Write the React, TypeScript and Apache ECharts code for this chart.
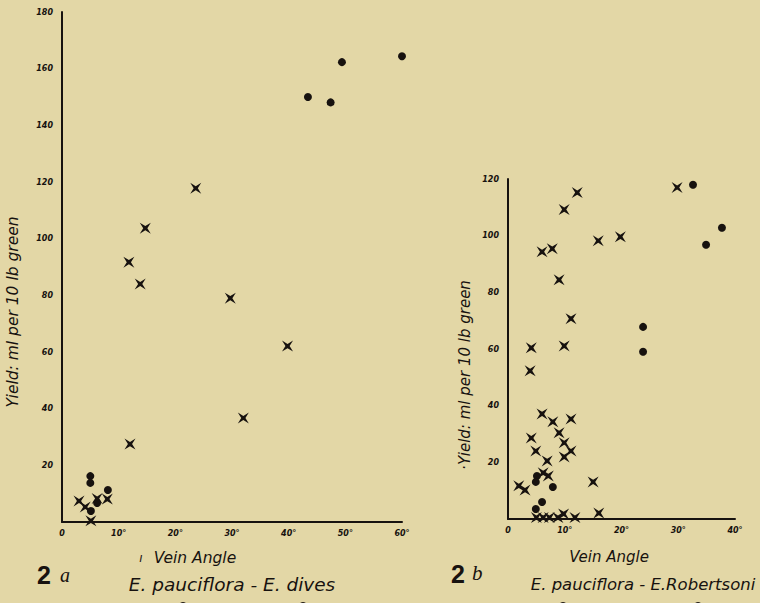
import React, { useEffect, useRef } from "react";
import * as echarts from "echarts";

// Chart 2a: E. pauciflora - E. dives  (x = vein angle in degrees, y = yield ml per 10 lb green)
const aCrosses: number[][] = [
  [23.6, 117.8], [14.7, 103.7], [11.8, 91.7], [13.8, 84.0], [29.7, 79.0],
  [39.8, 62.1], [32.0, 36.7], [12.0, 27.5], [3.0, 7.4], [4.1, 5.3],
  [5.1, 0.4], [8.0, 8.1], [6.2, 8.3],
];
const aCircles: number[][] = [
  [43.4, 150.0], [47.4, 148.1], [49.4, 162.3], [60.0, 164.4],
  [5.0, 16.2], [5.0, 13.8], [8.1, 11.3], [6.2, 6.7], [5.1, 3.9],
];

// Chart 2b: E. pauciflora - E. Robertsoni
const bCrosses: number[][] = [
  [29.8, 117.0], [12.2, 115.2], [9.9, 109.2], [6.0, 94.3], [7.8, 95.4],
  [15.9, 98.2], [19.8, 99.6], [9.0, 84.4], [11.1, 70.7], [4.1, 60.4],
  [9.9, 61.1], [3.9, 52.3], [6.0, 37.1], [7.9, 34.3], [11.1, 35.3],
  [9.0, 30.4], [4.1, 28.6], [9.9, 26.9], [11.1, 24.0], [4.9, 24.0],
  [9.9, 21.9], [6.9, 20.5], [6.2, 16.3], [7.1, 15.2], [1.9, 11.7],
  [3.0, 10.2], [15.0, 13.1], [16.0, 2.1], [5.0, 0.5], [6.2, 0.5],
  [7.3, 0.5], [8.8, 0.5], [9.8, 1.8], [11.8, 0.5],
];
const bCircles: number[][] = [
  [32.6, 118.0], [37.7, 102.8], [34.9, 96.8], [23.8, 67.8], [23.8, 59.0],
  [5.1, 15.2], [4.9, 13.1], [7.9, 11.3], [6.0, 6.0], [4.9, 3.5],
];

const aXMax = 60;
const aYMax = 180;
const bXMax = 40;
const bYMax = 120;

const INK = "#17120f";
const BG = "#e3d7a6";
const CROSS = "path://M0,0L5,3.1L10,0L6.9,5L10,10L5,6.9L0,10L3.1,5Z";

const tickFont = {
  color: INK,
  fontSize: 8,
  fontStyle: "italic" as const,
  fontWeight: "bold" as const,
  fontFamily: "DejaVu Sans",
};

function makeX(gridIndex: number, max: number) {
  return {
    type: "value",
    gridIndex,
    min: 0,
    max,
    interval: 10,
    splitLine: { show: false },
    axisTick: { show: false },
    axisLine: { show: true, onZero: false, lineStyle: { color: INK, width: 2 } },
    axisLabel: {
      ...tickFont,
      margin: 7,
      formatter: (v: number) => (v === 0 ? "0" : v + "°"),
    },
  };
}

function makeY(gridIndex: number, max: number) {
  return {
    type: "value",
    gridIndex,
    min: 0,
    max,
    interval: 20,
    splitLine: { show: false },
    axisTick: { show: false },
    axisLine: { show: true, onZero: false, lineStyle: { color: INK, width: 2 } },
    axisLabel: {
      ...tickFont,
      margin: 9,
      formatter: (v: number) => (v === 0 ? "" : String(v)),
    },
  };
}

export default function App() {
  const ref = useRef<HTMLDivElement>(null);
  useEffect(() => {
    if (!ref.current) return;
    const chart = echarts.init(ref.current, null, { renderer: "svg" });
    const capFont = "DejaVu Sans";
    const mark = { color: INK, opacity: 1 };
    chart.setOption({
      animation: false,
      backgroundColor: BG,
      grid: [
        { left: 62, top: 12, width: 340, height: 510 },
        { left: 508, top: 179, width: 227, height: 340 },
      ],
      xAxis: [makeX(0, aXMax), makeX(1, bXMax)],
      yAxis: [makeY(0, aYMax), makeY(1, bYMax)],
      series: [
        {
          type: "scatter", xAxisIndex: 0, yAxisIndex: 0, data: aCrosses,
          symbol: CROSS, symbolSize: 11, clip: false, itemStyle: mark,
        },
        {
          type: "scatter", xAxisIndex: 0, yAxisIndex: 0, data: aCircles,
          symbol: "circle", symbolSize: 8, clip: false, itemStyle: mark,
        },
        {
          type: "scatter", xAxisIndex: 1, yAxisIndex: 1, data: bCrosses,
          symbol: CROSS, symbolSize: 11, clip: false, itemStyle: mark,
        },
        {
          type: "scatter", xAxisIndex: 1, yAxisIndex: 1, data: bCircles,
          symbol: "circle", symbolSize: 8, clip: false, itemStyle: mark,
        },
      ],
      graphic: [
        // y-axis titles
        {
          type: "text", x: 13, y: 312, rotation: Math.PI / 2,
          style: {
            text: "Yield: ml per 10 lb green", fill: INK, font: `italic 15.5px "${capFont}"`,
            align: "center", verticalAlign: "middle",
          },
        },
        {
          type: "text", x: 465, y: 375, rotation: Math.PI / 2,
          style: {
            text: "·Yield: ml per 10 lb green", fill: INK, font: `italic 15px "${capFont}"`,
            align: "center", verticalAlign: "middle",
          },
        },
        // x-axis titles
        {
          type: "text", x: 141, y: 558,
          style: { text: "ı", fill: INK, font: `italic 12px "${capFont}"`, align: "center", verticalAlign: "middle" },
        },
        {
          type: "text", x: 195, y: 558,
          style: { text: "Vein Angle", fill: INK, font: `italic 15.5px "${capFont}"`, align: "center", verticalAlign: "middle" },
        },
        {
          type: "text", x: 609, y: 557,
          style: { text: "Vein Angle", fill: INK, font: `italic 15px "${capFont}"`, align: "center", verticalAlign: "middle" },
        },
        // figure numbers
        {
          type: "text", x: 37, y: 575,
          style: { text: "2", fill: INK, font: `bold 25px "Liberation Sans"`, align: "left", verticalAlign: "middle" },
        },
        {
          type: "text", x: 60, y: 575,
          style: { text: "a", fill: INK, font: `italic 20px "Liberation Serif"`, align: "left", verticalAlign: "middle" },
        },
        {
          type: "text", x: 451, y: 574,
          style: { text: "2", fill: INK, font: `bold 25px "Liberation Sans"`, align: "left", verticalAlign: "middle" },
        },
        {
          type: "text", x: 472, y: 573,
          style: { text: "b", fill: INK, font: `italic 21px "Liberation Serif"`, align: "left", verticalAlign: "middle" },
        },
        // captions
        {
          type: "text", x: 232, y: 584,
          style: { text: "E. pauciflora - E. dives", fill: INK, font: `italic 18.5px "${capFont}"`, align: "center", verticalAlign: "middle" },
        },
        {
          type: "text", x: 643, y: 584,
          style: { text: "E. pauciflora - E.Robertsoni", fill: INK, font: `italic 16.5px "${capFont}"`, align: "center", verticalAlign: "middle" },
        },
        // legend symbols, cut off at the bottom edge
        { type: "circle", shape: { cx: 183, cy: 606, r: 4 }, style: { fill: INK } },
        { type: "circle", shape: { cx: 303, cy: 606, r: 4 }, style: { fill: INK } },
        { type: "circle", shape: { cx: 563, cy: 606, r: 4 }, style: { fill: INK } },
        { type: "circle", shape: { cx: 698, cy: 606, r: 4 }, style: { fill: INK } },
      ],
    });
    return () => chart.dispose();
  }, []);
  return (
    <div
      ref={ref}
      style={{ position: "fixed", left: 0, top: 0, width: 760, height: 603 }}
    />
  );
}
